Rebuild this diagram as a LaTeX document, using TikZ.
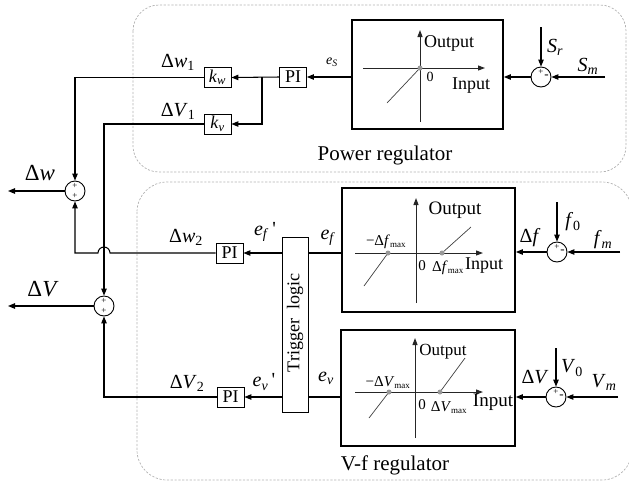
\documentclass[tikz,border=0pt]{standalone}
\usepackage{fontspec}
\setmainfont{Liberation Serif}
\usetikzlibrary{arrows.meta}
\newcommand\isb[2]{\textit{#1}\textsubscript{\textit{#2}}}
\newcommand\nsb[2]{\textit{#1}\textsubscript{#2}}
\newcommand\fs[1]{\fontsize{#1}{#1}\selectfont}
\newcommand\mx{\textsubscript{\fs{9}max}}
\begin{document}
\begin{tikzpicture}[x=1pt,y=-1pt,
  >={Triangle[length=7pt,width=5.5pt]},
  sig/.style={line width=1.05pt},
  region/.style={draw=gray!60, dash pattern=on 2.2pt off 1.6pt, line width=0.7pt},
  graphbox/.style={draw, line width=1.8pt, inner sep=0pt},
  smallbox/.style={draw, line width=0.9pt, minimum width=27pt, minimum height=20pt, inner sep=0pt, font=\fs{18}},
  sumnode/.style={draw, circle, line width=0.9pt, minimum size=20pt, inner sep=0pt},
  sign/.style={font=\fs{9}, inner sep=0pt},
  lab/.style={font=\fs{20}, inner sep=0pt},
  slab/.style={font=\fs{18}, inner sep=0pt},
  axis/.style={line width=1pt, draw=black!85, -{Triangle[length=7pt,width=5pt]}},
  chr/.style={line width=0.7pt, draw=black!75},
  dotc/.style={circle, fill=gray!80, inner sep=0pt, minimum size=5pt},
  title/.style={font=\fs{21}, inner sep=0pt}
]
\useasboundingbox (0,0) rectangle (629,483);
% regions
\draw[region, rounded corners=26pt] (133,5) rectangle (626,172);
\draw[region, rounded corners=30pt] (137,182) rectangle (632,480);
\node[title] (tpow) at (385,155) {Power regulator};
\node[title] (tvf) at (395,465) {V-f regulator};

% ---------- Power regulator ----------
\node[graphbox, minimum width=151pt, minimum height=109pt] (gP) at (427.5,74.5) {};
\draw[axis] (420,122) -- (420,30);
\draw[axis] (363,68) -- (485,68);
\draw[chr] (420,68) -- (387,103);
\node[dotc] (oP) at (420,68) {};
\node[slab, anchor=west] (outP) at (424,43) {Output};
\node[font=\fs{14}, inner sep=0pt] (zP) at (430,77) {0};
\node[slab] (inP) at (471,86) {Input};

\node[sumnode] (sP) at (541,77) {};
\node[sign] at ([yshift=5.2pt]sP.center) {+};
\node[sign] at ([xshift=5.5pt]sP.center) {\fs{13}-};
\coordinate (srS) at (541,27);
\coordinate (smS) at (605,77);
\draw[sig,->] (srS) -- (sP.north);
\draw[sig,->] (smS) -- (sP.east);
\node[lab] (lSr) at (555,47) {\isb{S}{r}};
\node[lab] (lSm) at (588,66) {\isb{S}{m}};
\draw[sig,->] (sP.west) -- (sP.west -| gP.east);

\node[smallbox] (PI1) at (293,77) {PI};
\draw[sig,->] (gP.west |- PI1) -- (PI1.east);
\node[font=\fs{14}, inner sep=0pt] (les) at (332,62) {\isb{e}{S}};

\node[smallbox] (kw) at (217.5,77.5) {\isb{k}{w}};
\node[smallbox] (kv) at (217.5,124) {\isb{k}{v}};
\coordinate (br) at (262,77);
\draw[sig,->] (PI1.west) -- (kw.east);
\draw[sig,->] (br) |- (kv.east);
\node[lab] (ldw1) at (178,62) {Δ\nsb{w}{1}};
\node[lab] (ldv1) at (178,111) {Δ\nsb{V}{1}};

% ---------- output sums ----------
\node[sumnode] (sW) at (75,191) {};
\node[sign] at ([yshift=5.2pt]sW.center) {+};
\node[sign] at ([yshift=-5.2pt]sW.center) {+};
\node[sumnode] (sV) at (104,306) {};
\node[sign] at ([yshift=5.2pt]sV.center) {+};
\node[sign] at ([yshift=-5.2pt]sV.center) {+};
\coordinate (oW) at (8,191);
\coordinate (oV) at (8,306);
\draw[sig,->] (kw.west) -| (sW.north);
\draw[sig,->] (kv.west) -| (sV.north);
\draw[sig,->] (sW.west) -- (oW);
\draw[sig,->] (sV.west) -- (oV);
\node[font=\fs{23}, inner sep=0pt] (ldw) at (40,173) {Δ\textit{w}};
\node[font=\fs{23}, inner sep=0pt] (ldv) at (43,289) {Δ\textit{V}};

% ---------- V-f regulator ----------
\node[draw, line width=0.9pt, minimum width=26pt, minimum height=175pt, inner sep=0pt] (trig) at (295,324.5) {};
\node[font=\fs{18}, rotate=90, inner sep=0pt] (ttrig) at (295,323) {Trigger\ \ logic};

% frequency branch
\node[graphbox, minimum width=173pt, minimum height=124pt] (gF) at (428.5,250) {};
\draw[axis] (416,303) -- (416,198);
\draw[axis] (355,253) -- (483,253);
\draw[chr] (388,253) -- (364,286);
\draw[chr] (442,253) -- (471,227);
\node[dotc] (dF1) at (388,253) {};
\node[dotc] (dF2) at (442,253) {};
\node[font=\fs{19}, inner sep=0pt] (outF) at (455,210) {Output};
\node[font=\fs{15}, inner sep=0pt] (mfF) at (386,242) {−Δ\textit{f}\mx};
\node[font=\fs{15}, inner sep=0pt] (zF) at (422,266) {0};
\node[font=\fs{15}, inner sep=0pt] (pfF) at (448,268) {Δ\textit{f}\mx};
\node[slab] (inF) at (484,266) {Input};

\node[sumnode] (sF) at (557,252) {};
\node[sign] at ([yshift=5.2pt]sF.center) {+};
\node[sign] at ([xshift=5.5pt]sF.center) {\fs{13}-};
\coordinate (f0S) at (557,202);
\coordinate (fmS) at (620,252);
\draw[sig,->] (f0S) -- (sF.north);
\draw[sig,->] (fmS) -- (sF.east);
\draw[sig,->] (sF.west) -- (sF.west -| gF.east);
\node[lab] (ldf) at (530,238) {Δ\textit{f}};
\node[lab] (lf0) at (573,222) {\nsb{f}{0}};
\node[lab] (lfm) at (603,240) {\isb{f}{m}};

\draw[sig] (gF.west |- 0,253) -- (trig.east |- 0,253);
\node[lab] (lef) at (328,238) {\isb{e}{f}};
\node[smallbox] (PI2) at (229.5,253) {PI};
\draw[sig,->] (trig.west |- PI2) -- (PI2.east);
\node[lab] (lef2) at (265,232) {\isb{e}{f}\,\textquotesingle};
\node[lab] (ldw2) at (186,237) {Δ\nsb{w}{2}};
\coordinate (hopR) at (110,253);
\draw[sig,->] (PI2.west) -- (hopR) arc[start angle=0, end angle=180, radius=6pt] -| (sW.south);

% voltage branch
\node[graphbox, minimum width=174pt, minimum height=116pt] (gV) at (428,388) {};
\draw[axis] (415,438) -- (415,338);
\draw[axis] (355,392) -- (483,392);
\draw[chr] (389,392) -- (369,418);
\draw[chr] (440,392) -- (465,358);
\node[dotc] (dV1) at (389,392) {};
\node[dotc] (dV2) at (440,392) {};
\node[font=\fs{17}, inner sep=0pt] (outV) at (443,352) {Output};
\node[font=\fs{15}, inner sep=0pt] (mvV) at (388,383) {−Δ\textit{V}\mx};
\node[font=\fs{15}, inner sep=0pt] (zV) at (422,405) {0};
\node[font=\fs{15}, inner sep=0pt] (pvV) at (449,408) {Δ\textit{V}\mx};
\node[font=\fs{19}, inner sep=0pt] (inV) at (493,402) {Input};

\node[sumnode] (sVm) at (556,397) {};
\node[sign] at ([yshift=5.2pt]sVm.center) {+};
\node[sign] at ([xshift=5.5pt]sVm.center) {\fs{13}-};
\coordinate (v0S) at (556,348);
\coordinate (vmS) at (618,397);
\draw[sig,->] (v0S) -- (sVm.north);
\draw[sig,->] (vmS) -- (sVm.east);
\draw[sig,->] (sVm.west) -- (sVm.west -| gV.east);
\node[lab] (ldV) at (535,377) {Δ\textit{V}};
\node[lab] (lV0) at (572,368) {\nsb{V}{0}};
\node[lab] (lVm) at (604,382) {\isb{V}{m}};

\draw[sig] (gV.west |- 0,397) -- (trig.east |- 0,397);
\node[lab] (lev) at (326,378) {\isb{e}{v}};
\node[smallbox] (PI3) at (230.5,397) {PI};
\draw[sig,->] (trig.west |- PI3) -- (PI3.east);
\node[lab] (lev2) at (264,382) {\isb{e}{v}\,\textquotesingle};
\node[lab] (ldv2) at (187,383) {Δ\nsb{V}{2}};
\draw[sig,->] (PI3.west) -| (sV.south);
\end{tikzpicture}
\end{document}
